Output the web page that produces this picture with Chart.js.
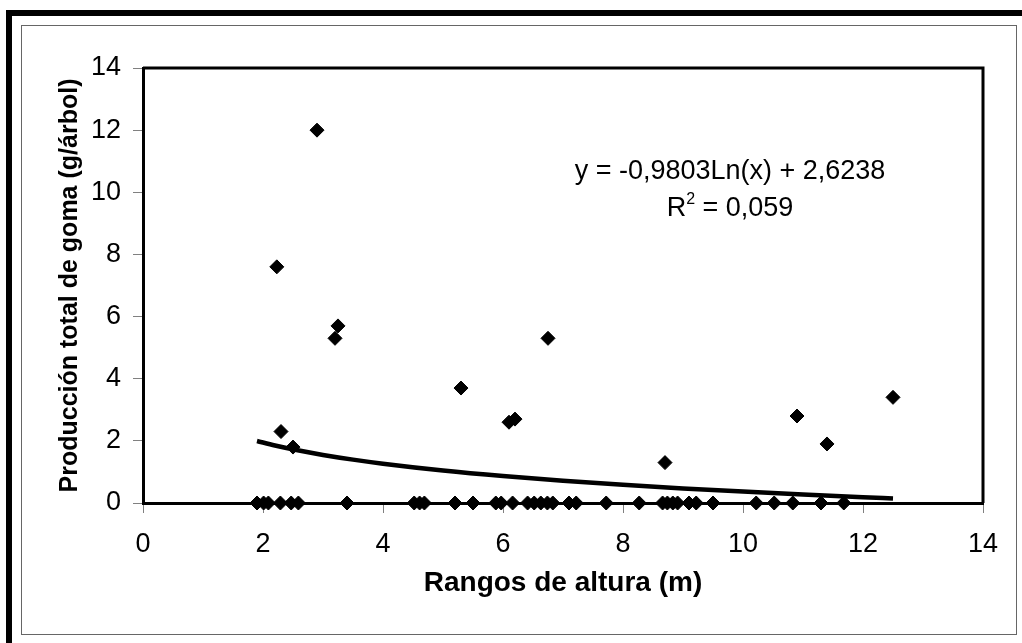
<!DOCTYPE html>
<html>
<head>
<meta charset="utf-8">
<script src="https://cdn.jsdelivr.net/npm/chart.js@4.4.1/dist/chart.umd.min.js"></script>
<style>
  body { margin: 0; background: #fff; }
  #wrap { width: 1022px; height: 643px; position: relative; }
</style>
</head>
<body>
<div id="wrap"><canvas id="gum-chart"></canvas></div>
<script>
// Height class (m) vs total gum yield (g/tree)
const heightWithGum = [2.9, 2.23, 3.25, 3.2, 6.75, 5.3, 6.2, 6.1, 2.3, 2.5, 12.5, 10.9, 11.4, 8.7];
const gumYield = [12.0, 7.6, 5.7, 5.3, 5.3, 3.7, 2.7, 2.6, 2.3, 1.8, 3.4, 2.8, 1.9, 1.3];

const heightNoGum = [1.9, 2.01, 2.09, 2.29, 2.47, 2.59, 3.4, 4.52, 4.61, 4.69, 5.2, 5.5,
    5.88, 5.97, 6.16, 6.41, 6.52, 6.63, 6.74, 6.83, 7.1, 7.22, 7.72, 8.27,
    8.66, 8.74, 8.83, 8.91, 9.1, 9.22, 9.5, 10.22, 10.52, 10.83, 11.3, 11.68];

// logarithmic trend line as drawn
const trendX = [1.9, 2.2, 2.6, 3, 3.5, 4, 5, 6, 7, 8, 9, 10, 11, 12, 12.5];
const trendY = [1.995, 1.851, 1.687, 1.547, 1.396, 1.265, 1.046, 0.867, 0.716, 0.585, 0.470, 0.367, 0.273, 0.188, 0.148];

const axisTicks = [0, 2, 4, 6, 8, 10, 12, 14];
const eqLine1 = 'y = -0,9803Ln(x) + 2,6238';
const eqR2 = '0,059';

const FONT = '"Liberation Sans", Arial, sans-serif';

const points = heightWithGum.map((x, i) => ({ x: x, y: gumYield[i] }))
    .concat(heightNoGum.map(x => ({ x: x, y: 0 })));
const trend = trendX.map((x, i) => ({ x: x, y: trendY[i] }));

const framePlugin = {
    id: 'frame',
    beforeDraw(chart) {
        const ctx = chart.ctx;
        ctx.save();
        ctx.fillStyle = '#fff';
        ctx.fillRect(0, 0, chart.width, chart.height);
        // outer black edges
        ctx.fillStyle = '#000';
        ctx.fillRect(6, 10, chart.width - 6, 6);
        ctx.fillRect(6, 10, 6, chart.height - 10);
        // inner grey box
        ctx.strokeStyle = '#666';
        ctx.lineWidth = 1;
        ctx.strokeRect(21.5, 25.5, 995, 609);
        ctx.restore();
    },
    beforeDatasetsDraw(chart) {
        const a = chart.chartArea;
        const ctx = chart.ctx;
        ctx.save();
        ctx.strokeStyle = '#000';
        ctx.lineWidth = 3;
        ctx.beginPath();
        ctx.moveTo(a.left, a.top);
        ctx.lineTo(a.right, a.top);
        ctx.lineTo(a.right, a.bottom);
        ctx.stroke();
        ctx.restore();
    },
    afterDraw(chart) {
        const ctx = chart.ctx;
        ctx.save();
        ctx.fillStyle = '#000';
        ctx.textBaseline = 'alphabetic';
        ctx.font = '27px ' + FONT;
        ctx.textAlign = 'center';
        ctx.fillText(eqLine1, 730, 179);
        // R² line
        ctx.textAlign = 'left';
        const wR = ctx.measureText('R').width;
        const rest = ' = ' + eqR2;
        const wRest = ctx.measureText(rest).width;
        ctx.font = '16px ' + FONT;
        const wSup = ctx.measureText('2').width;
        const total = wR + wSup + wRest;
        let x = 730 - total / 2;
        ctx.font = '27px ' + FONT;
        ctx.fillText('R', x, 216);
        x += wR;
        ctx.font = '16px ' + FONT;
        ctx.fillText('2', x, 204);
        x += wSup;
        ctx.font = '27px ' + FONT;
        ctx.fillText(rest, x, 216);
        ctx.restore();
    }
};

new Chart(document.getElementById('gum-chart'), {
    type: 'scatter',
    data: {
        datasets: [{
            label: 'Producción',
            data: points,
            pointStyle: 'rectRot',
            pointRadius: 7,
            backgroundColor: '#000',
            borderColor: '#000',
            borderWidth: 1,
            clip: false
        }, {
            label: 'Tendencia',
            type: 'line',
            data: trend,
            borderColor: '#000',
            borderWidth: 4.5,
            pointRadius: 0,
            tension: 0.4,
            cubicInterpolationMode: 'monotone',
            fill: false,
            clip: false
        }]
    },
    options: {
        responsive: true,
        maintainAspectRatio: false,
        animation: false,
        layout: { padding: { left: 0, top: 68, right: 39, bottom: 0 } },
        plugins: {
            legend: { display: false },
            tooltip: { enabled: false }
        },
        scales: {
            x: {
                type: 'linear',
                min: 0,
                max: 14,
                afterBuildTicks(scale) { scale.ticks = axisTicks.map(v => ({ value: v })); },
                afterFit(scale) { scale.height = 140; },
                grid: { drawOnChartArea: false, drawTicks: true, tickLength: 10, color: '#808080' },
                border: { color: '#000', width: 3 },
                ticks: { color: '#000', font: { family: FONT, size: 27 }, padding: 15 },
                title: {
                    display: true,
                    text: 'Rangos de altura (m)',
                    color: '#000',
                    font: { family: FONT, size: 28, weight: 'bold' },
                    padding: { top: 0, bottom: 43 }
                }
            },
            y: {
                type: 'linear',
                min: 0,
                max: 14,
                afterBuildTicks(scale) { scale.ticks = axisTicks.map(v => ({ value: v })); },
                afterFit(scale) { scale.width = 143; },
                grid: { drawOnChartArea: false, drawTicks: true, tickLength: 10, color: '#808080' },
                border: { color: '#000', width: 3 },
                ticks: { color: '#000', font: { family: FONT, size: 27 }, padding: 12 },
                title: {
                    display: true,
                    text: 'Producción total de goma (g/árbol)',
                    color: '#000',
                    font: { family: FONT, size: 25, weight: 'bold' },
                    padding: { top: 55, bottom: 0 }
                }
            }
        }
    },
    plugins: [framePlugin]
});
</script>
</body>
</html>
